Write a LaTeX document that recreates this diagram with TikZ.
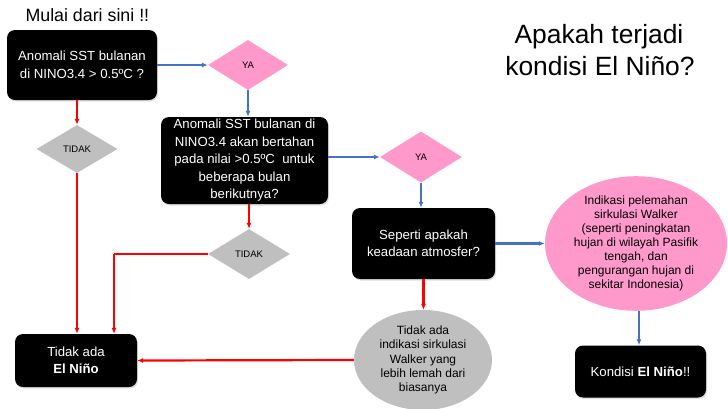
\documentclass[tikz,border=0pt]{standalone}
\usepackage{fontspec}
\setmainfont{Liberation Sans}
\usetikzlibrary{shapes.geometric,arrows.meta,shadows}
\definecolor{fblue}{HTML}{4472C4}
\definecolor{fred}{HTML}{FF0000}
\definecolor{fpink}{HTML}{FF99CC}
\definecolor{fgray}{HTML}{BFBFBF}
\tikzset{
  blackbox/.style={rectangle, rounded corners=8pt, fill=black, text=white, align=center, inner sep=0pt,
    font=\fontsize{13.2}{17.5}\selectfont, drop shadow={opacity=0.25, shadow xshift=1pt, shadow yshift=-1.5pt}},
  yabox/.style={diamond, fill=fpink, inner sep=0pt, font=\fontsize{9.5}{11}\selectfont},
  tidakbox/.style={diamond, fill=fgray, inner sep=0pt, font=\fontsize{9.5}{11}\selectfont},
  bluearrow/.style={draw=fblue, line width=2.2pt, -{Latex[length=6pt,width=5pt]}},
  redarrow/.style={draw=fred, line width=2.2pt, -{Latex[length=6pt,width=5pt]}},
  redline/.style={draw=fred, line width=2.2pt},
}
\begin{document}
\begin{tikzpicture}[x=1pt,y=-1pt]
\useasboundingbox (0,0) rectangle (728,408);

\node[anchor=base west, font=\fontsize{17.8}{20}\selectfont] (start) at (22,21) {Mulai dari sini !!};
\node[anchor=base, font=\fontsize{26.4}{32}\selectfont] (t1) at (599,43) {Apakah terjadi};
\node[anchor=base, font=\fontsize{26.4}{32}\selectfont] (t2) at (600,75) {kondisi El Niño?};

\node[blackbox, minimum width=150pt, minimum height=70pt] (b1) at (82,65)
  {Anomali SST bulanan\\di NINO3.4 > 0.5ºC ?};
\node[yabox, minimum width=80pt, minimum height=50pt] (ya1) at (248,65) {YA};
\node[blackbox, minimum width=167pt, minimum height=87pt] (b2) at (244.5,160.5)
  {Anomali SST bulanan di\\NINO3.4 akan bertahan\\pada nilai >0.5ºC\ \ untuk\\beberapa bulan\\berikutnya?};
\node[tidakbox, minimum width=81pt, minimum height=48pt] (td1) at (77,149) {TIDAK};
\node[tidakbox, minimum width=82pt, minimum height=50pt] (td2) at (249,254) {TIDAK};
\node[yabox, minimum width=82pt, minimum height=51pt] (ya2) at (421,157) {YA};
\node[blackbox, minimum width=143pt, minimum height=71pt] (b3) at (423.5,243.5)
  {Seperti apakah\\keadaan atmosfer?};
\node[ellipse, fill=fpink, inner sep=0pt, minimum width=182pt, minimum height=127pt, align=center,
  font=\fontsize{12}{14}\selectfont] (ell) at (636,243.5)
  {Indikasi pelemahan\\sirkulasi Walker\\(seperti peningkatan\\hujan di wilayah Pasifik\\tengah, dan\\pengurangan hujan di\\sekitar Indonesia)};
\node[blackbox, minimum width=131pt, minimum height=52pt] (kb) at (640.5,371.5)
  {Kondisi \textbf{El Niño}!!};
\node[ellipse, fill=fgray, inner sep=0pt, minimum width=138pt, minimum height=100pt, align=center,
  font=\fontsize{12}{14.2}\selectfont] (gr) at (423,360)
  {Tidak ada\\indikasi sirkulasi\\Walker yang\\lebih lemah dari\\biasanya};
\node[blackbox, minimum width=122pt, minimum height=53pt] (tb) at (76,360.5)
  {Tidak ada\\\textbf{El Niño}};

\coordinate (tcorner) at (114,254);

\draw[bluearrow] (b1.east |- ya1) -- (ya1.west);
\draw[bluearrow] (ya1.south) -- (ya1.south |- b2.north);
\draw[bluearrow] (b2.east |- ya2) -- (ya2.west);
\draw[bluearrow] (ya2.south) -- (ya2.south |- b3.north);
\draw[bluearrow] (b3.east) -- (ell.west);
\draw[bluearrow] (ell.south -| kb.north) ++(-1.5,0) coordinate (ellbot) (ellbot) -- (ellbot |- kb.north);

\draw[redarrow] (td1.north |- b1.south) -- (td1.north);
\draw[redarrow] (td1.south) -- (td1.south |- tb.north);
\draw[redarrow] (td2.north |- b2.south) -- (td2.north);
\draw[redline] (td2.west) -- (tcorner);
\draw[redarrow] (tcorner) -- (tcorner |- tb.north);
\draw[redarrow] (b3.south) -- (b3.south |- gr.north);
\draw[redarrow] (gr.west) -- (tb.east);
\end{tikzpicture}
\end{document}
